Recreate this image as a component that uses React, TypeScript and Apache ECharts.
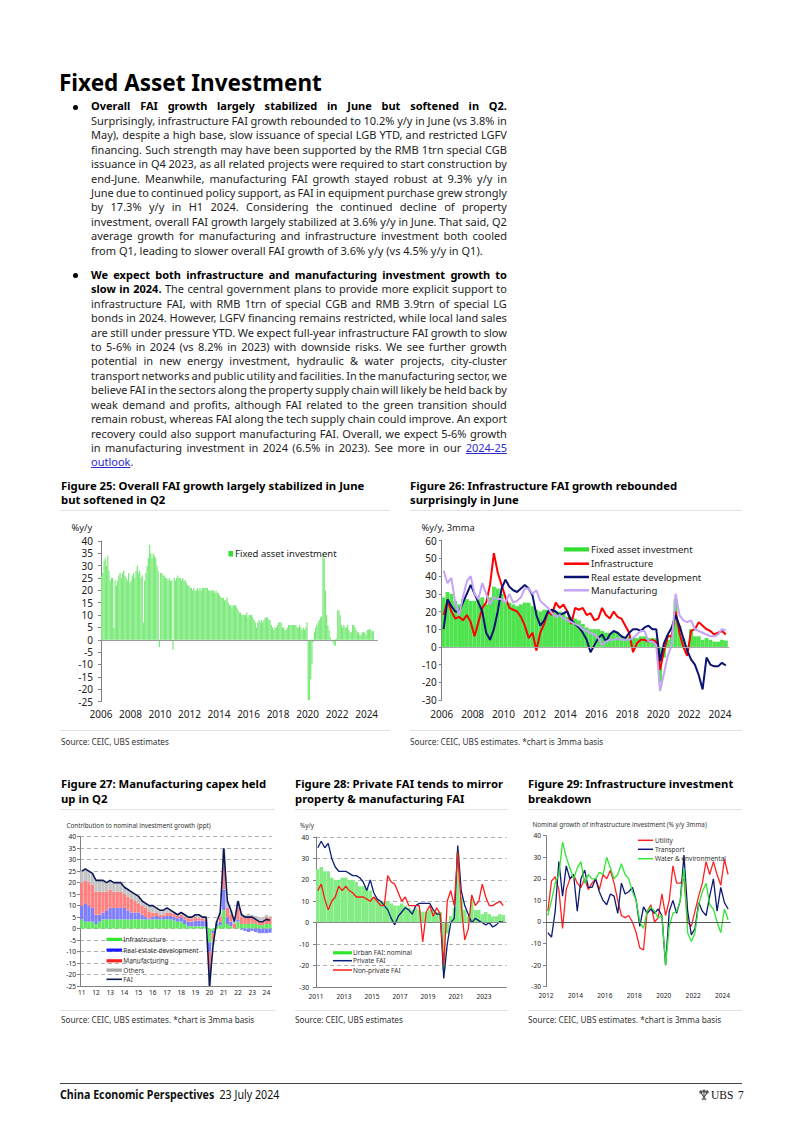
import React, { useEffect, useRef } from "react";
import * as echarts from "echarts";

const FONT = '"Noto Sans", "DejaVu Sans", sans-serif';

// ---------------- Figure 25: monthly FAI y/y (Jan 2006 - Jun 2024) ----------------
const fig25Start = 2006;
const fig25Fai = [
  26, 27, 32, 33, 30, 34, 28, 24, 25, 25, 5, 24, // 2006
  22, 24, 26, 27, 25, 27, 28, 26, 25, 24, 27, 23, // 2007
  24, 26, 27, 25, 28, 30, 27, 28, 25, 26, 7, 24, // 2008
  27, 30, 33, 38.5, 35, 33, 35, 34, 33, 30, 28, -3, // 2009
  27, 27, 26, 26, 25, 25, 24, 25, 24, 24, -4, 25, // 2010
  24, 25, 26, 25, 25, 24, 25, 24, 24, 23, 22, 22, // 2011
  21, 21, 20, 21, 20, 20, 21, 20, 21, 20, 21, 21, // 2012
  21, 21, 21, 20, 20, 20, 20, 20, 19, 20, 19, 19, // 2013
  18, 17, 17, 17, 16, 16, 17, 15, 14, 14, 13, 14, // 2014
  14, 14, 13, 12, 11, 11, 10, 10, 10, 10, 11, 9, // 2015
  10, 10, 10, 9, 8, 7, 5, 7, 8, 7, 8, 7, // 2016
  8, 9, 9, 9, 8, 8, 6, 5, 4, 5, 5, 6, // 2017
  7, 7, 7, 5, 5, 4, 4, 5, 6, 6, 6, 6, // 2018
  6, 6, 6, 5, 5, 6, 5, 4, 5, 4, 5, 7, // 2019
  -24.5, -24.5, -16, -10, -1, 3, 5, 6, 7, 8, 9, 9.5, // 2020
  35, 33, 20, 10, 6, 4, 1, 0, -1, -2, -2.5, 0.5, // 2021
  12, 12, 10, 6, 5, 6, 5, 5, 6, 4, 3, 3, // 2022
  6, 6, 5, 4, 3, 3, 2, 2, 3, 3, 3, 2, // 2023
  4, 4, 4.5, 4, 3.5, 3.6, // 2024
];

// ---------------- Figure 26: quarterly readings of 3mma series (2006Q1 - 2024Q2) ----------------
const fig26Start = 2006;
const fig26Fai = [
  28, 31, 30, 26, 24, 27, 27, 26, 26, 27, 28, 24, 28, 34, 33, 30, 26, 25, 24, 23,
  24, 25, 25, 23, 21, 20, 21, 21, 21, 20, 20, 19, 17, 17, 16, 15, 13, 11, 10, 10,
  10, 9, 8, 8, 9, 8, 6, 5, 6, 5, 5, 6, 6, 5, 5, 5, -20, -6, 4, 7,
  27, 12, 5, 0, 10, 6, 6, 4, 5, 4, 3, 3, 4, 3.6,
];
const fig26Infra = [
  18, 26, 20, 16, 17, 15, 18, 14, 6, 14, 22, 25, 35, 53, 42, 35, 28, 22, 21, 20,
  17, 12, 5, 8, -2, 8, 13, 20, 18, 25, 22, 24, 20, 13, 22, 21, 22, 18, 19, 15,
  16, 22, 18, 16, 20, 17, 16, 12, 8, -3, 2, 4, 4, 3, 4, 3, -13, -2, 6, 6,
  20, 8, 0, -5, 9, 10, 14, 12, 10, 9, 7, 8, 9, 7,
];
const fig26RealEstate = [
  10, 27, 23, 20, 20, 25, 30, 35, 30, 25, 20, 8, 4, 10, 20, 33, 38, 34, 32, 31,
  33, 35, 33, 29, 18, 12, 15, 20, 21, 20, 18, 19, 20, 15, 13, 11, 8, 4, -3, 1,
  5, 7, 3, 7, 9, 8, 6, 5, 8, 10, 10, 9, 11, 12, 10, 10, -8, 2, 7, 11,
  18, 12, 5, -2, -7, -10, -16, -24, -6, -10, -11, -11, -9, -10.5,
];
const fig26Manuf = [
  43, 36, 39, 25, 18, 28, 37, 40, 30, 27, 36, 30, 24, 28, 27, 27, 25, 30, 25, 26,
  28, 33, 33, 30, 32, 26, 24, 22, 19, 17, 18, 16, 15, 14, 13, 12, 10, 9, 8, 7,
  5, 1, 3, 4, 4, 5, 4, 4, 4, 5, 7, 9, 9, 3, 3, 1, -25, -15, -5, 1,
  30, 18, 15, 14, 15, 10, 9, 8, 7, 6, 6, 7, 10, 9.3,
];

// ---------------- Figure 27: contributions, quarterly (2011Q1 - 2024Q2) ----------------
const fig27Years = [2011, 2012, 2013, 2014, 2015, 2016, 2017, 2018, 2019, 2020, 2021, 2022, 2023, 2024];
const fig27Quarters: string[] = [];
fig27Years.forEach((y) => ["Q1", "Q2", "Q3", "Q4"].forEach((q) => fig27Quarters.push(`${y}${q}`)));
fig27Quarters.length = 54; // data runs to 2024Q2
const fig27Infra = [
  4, 3, 3, 3, 2, 3, 4, 4, 4, 4, 4, 4, 4, 4, 4, 4, 4, 4, 4, 4, 4, 4, 4, 4, 4, 4, 3.5, 3,
  3, 2, 1, 1, 1, 1, 1, 1, -6, -1, 1, 1.5, 8, 2, 1, 0, 3, 2, 2, 2, 2.5, 2, 1.5, 1.5, 2, 2,
];
const fig27RealEstate = [
  6, 8, 7, 6, 4, 3, 3, 4, 5, 5, 5, 5, 5, 4, 3, 3, 3, 2, 1, 0.5, 1, 1.5, 1, 1, 1.5, 1.5, 1.5, 1.5,
  2, 2, 2, 2, 2.5, 2.5, 2.5, 2, -4, -1, 1, 1.5, 9, 3, 2, 0, 1, -0.5, -1, -1.5, -1, -1.5, -2, -2, -2, -1.8,
];
const fig27Manuf = [
  10, 10, 10, 10, 10, 10, 9, 8, 8, 7, 7, 7, 6, 6, 6, 5, 4, 4, 4, 3, 2, 1.5, 1, 1, 1.5, 1.5, 1.5, 1.2,
  1, 1, 1.5, 1.5, 1.5, 1, 1, 1, -9, -3, 0, 2, 10, 4, 3, 2, 5, 3, 3, 3, 2.5, 2, 2, 2, 3, 2.8,
];
const fig27Others = [
  5, 5, 5, 5, 5, 5, 5, 4, 4, 4, 4, 4, 3, 3, 3, 3, 3, 2, 2, 2.5, 3, 2, 2, 2, 2, 1, 0.5, 0.3,
  1, 1, 0.5, 0.5, 1, 1.5, 0.5, 1, -6, -2, 1, 2, 8, 3, 2, 1, 3, 1.5, 1, 1.5, 1, 1.5, 1.5, 1.5, 1, 0.6,
];
const fig27Fai = [
  25, 26, 25, 24, 21, 21, 21, 20, 21, 20, 20, 20, 18, 17, 16, 15, 14, 12, 11, 10, 10, 9, 8, 8, 9, 8, 7, 6,
  7, 6, 5, 5, 6, 6, 5, 5, -25, -7, 3, 7, 35, 12, 8, 3, 12, 6, 5, 5, 5, 4, 3, 3, 4, 3.6,
];

// ---------------- Figure 28: quarterly (2011Q1 - 2024Q2) ----------------
const fig28Start = 2011;
const fig28Urban = [
  25, 26, 24, 24, 21, 20, 20, 21, 21, 20, 20, 19, 17, 17, 16, 15, 12, 11, 10, 10, 10, 9, 8, 8, 9, 8, 7, 6,
  7, 6, 5, 5, 6, 6, 5, 5, -22, -5, 3, 7, 33, 12, 6, 3, 11, 6, 6, 4, 5, 4, 3, 3, 4, 3.6,
];
const fig28Private = [
  35, 38, 35, 37, 30, 26, 24, 24, 24, 23, 22, 22, 21, 19, 15, 20, 14, 11, 10, 8, 6, 2, -1, 3, 5, 7, 6, 4,
  8, 9, 9, 9, 9, 6, 4, 4, -26, -10, 0, 2, 36, 15, 8, 4, 0, 2, 1, 0, -1, 0, -2, -1, 0.5, 0.2,
];
const fig28NonPrivate = [
  15, 18, 11, 6, 10, 12, 17, 15, 17, 15, 14, 12, 12, 12, 11, 10, 12, 10, 8, 8, 22, 19, 18, 14, 10, 12, 8, 8,
  8, 8, -9, 5, 8, 3, 7, 4, -20, 10, 15, 8, 33, 8, -8, -3, 13, 8, 10, 18, 12, 8, 8, 9, 10, 8,
];

// ---------------- Figure 29: quarterly (2012Q1 - 2024Q2) ----------------
const fig29Start = 2012;
const fig29Utility = [
  5, 19, 21, 15, -3, 15, 20, 22, 18, 16, 20, 15, 18, 20, 15, 22, 20, 24, 18, 10, 3, 2, 3, 0,
  -5, -12, -13, 5, 8, 0, 2, 13, 3, 10, 26, 18, 18, 20, 0, -2, 5, 12, 18, 28, 22, 28, 22, 17, 29, 22,
];
const fig29Transport = [
  -5, -7, 5, 28, 12, 26, 20, 22, 5, 20, 24, 16, 16, 20, 14, 10, 8, 13, 12, 4, 18, 13, 14, 16,
  10, -2, 7, 4, 6, 4, 6, 3, -20, 5, 10, 4, 10, 31, 5, -6, -3, 9, 5, 3, 12, 20, 5, 16, 9, 6,
];
const fig29Water = [
  3, 10, 18, 22, 37, 30, 25, 20, 25, 28, 18, 22, 20, 20, 23, 22, 30, 25, 20, 22, 27, 22, 20, 14,
  10, 0, -3, 5, 7, 5, 2, 3, -20, -2, 4, 5, 10, 25, -5, -9, -5, 8, 14, 18, 8, 6, 0, -5, 6, 1,
];

// ---------------- text ----------------
type Seg = { t: string; b?: boolean; a?: boolean };
const para1: Seg[][] = [
  [{ t: "Overall FAI growth largely stabilized in June but softened in Q2.", b: true }],
  [{ t: "Surprisingly, infrastructure FAI growth rebounded to 10.2% y/y in June (vs 3.8% in" }],
  [{ t: "May), despite a high base, slow issuance of special LGB YTD, and restricted LGFV" }],
  [{ t: "financing. Such strength may have been supported by the RMB 1trn special CGB" }],
  [{ t: "issuance in Q4 2023, as all related projects were required to start construction by" }],
  [{ t: "end-June. Meanwhile, manufacturing FAI growth stayed robust at 9.3% y/y in" }],
  [{ t: "June due to continued policy support, as FAI in equipment purchase grew strongly" }],
  [{ t: "by 17.3% y/y in H1 2024. Considering the continued decline of property" }],
  [{ t: "investment, overall FAI growth largely stabilized at 3.6% y/y in June. That said, Q2" }],
  [{ t: "average growth for manufacturing and infrastructure investment both cooled" }],
  [{ t: "from Q1, leading to slower overall FAI growth of 3.6% y/y (vs 4.5% y/y in Q1)." }],
];
const para2: Seg[][] = [
  [{ t: "We expect both infrastructure and manufacturing investment growth to", b: true }],
  [{ t: "slow in 2024.", b: true }, { t: "The central government plans to provide more explicit support to" }],
  [{ t: "infrastructure FAI, with RMB 1trn of special CGB and RMB 3.9trn of special LG" }],
  [{ t: "bonds in 2024. However, LGFV financing remains restricted, while local land sales" }],
  [{ t: "are still under pressure YTD. We expect full-year infrastructure FAI growth to slow" }],
  [{ t: "to 5-6% in 2024 (vs 8.2% in 2023) with downside risks. We see further growth" }],
  [{ t: "potential in new energy investment, hydraulic & water projects, city-cluster" }],
  [{ t: "transport networks and public utility and facilities. In the manufacturing sector, we" }],
  [{ t: "believe FAI in the sectors along the property supply chain will likely be held back by" }],
  [{ t: "weak demand and profits, although FAI related to the green transition should" }],
  [{ t: "remain robust, whereas FAI along the tech supply chain could improve. An export" }],
  [{ t: "recovery could also support manufacturing FAI. Overall, we expect 5-6% growth" }],
  [{ t: "in manufacturing investment in 2024 (6.5% in 2023). See more in our" }, { t: "2024-25", a: true }],
  [{ t: "outlook", a: true }, { t: "." }],
];

const qPairs = (arr: number[], start: number) => arr.map((v, i) => [start + i * 0.25 + 0.125, v]);
const mPairs = (arr: number[], start: number) => arr.map((v, i) => [start + (i + 0.5) / 12, v]);

const zeroLine = (color: string) => ({
  silent: true,
  symbol: "none",
  label: { show: false },
  lineStyle: { color, width: 1, type: "solid" },
  data: [{ yAxis: 0 }],
});

const gText = (text: string, x: number, y: number, size: number, fill = "#333") => ({
  type: "text",
  x,
  y,
  z: 100,
  silent: true,
  style: { text, fill, font: `${size}px ${FONT}`, verticalAlign: "middle", align: "left" },
});
const gRect = (x: number, y: number, w: number, h: number, fill: string) => ({
  type: "rect",
  z: 100,
  silent: true,
  shape: { x, y, width: w, height: h },
  style: { fill },
});
const gLine = (x1: number, x2: number, y: number, stroke: string, w: number) => ({
  type: "line",
  z: 100,
  silent: true,
  shape: { x1, y1: y, x2, y2: y },
  style: { stroke, lineWidth: w },
});

function buildOption() {
  const big = 10;
  const small = 6.6;
  const axisGray = "#808080";
  const yAx = (gi: number, min: number, max: number, interval: number, size: number, margin: number, dashed: boolean) => ({
    gridIndex: gi,
    type: "value",
    min,
    max,
    interval,
    axisLine: { show: true, lineStyle: { color: axisGray, width: 1 } },
    axisTick: { show: true, length: 3, lineStyle: { color: axisGray } },
    axisLabel: { fontSize: size, color: "#222", margin, fontFamily: FONT },
    splitLine: dashed ? { show: true, lineStyle: { color: "#9a9a9a", type: [4, 3], width: 0.8 } } : { show: false },
  });
  const xAx = (gi: number, min: number, max: number, interval: number, fmt: (v: number) => string, size: number, margin: number, line: boolean) => ({
    gridIndex: gi,
    type: "value",
    min,
    max,
    interval,
    axisLine: { show: line, onZero: false, lineStyle: { color: axisGray, width: 1 } },
    axisTick: { show: false },
    splitLine: { show: false },
    axisLabel: { fontSize: size, color: "#222", margin, fontFamily: FONT, formatter: fmt, showMaxLabel: true, showMinLabel: true },
  });
  const evenYear = (v: number) => (Number.isInteger(v) && v % 2 === 0 ? String(v) : "");
  const oddFrom2011 = (v: number) => (Number.isInteger(v) && (v - 2011) % 2 === 0 ? String(v) : "");

  const bar27 = (name: string, data: number[], color: string) => ({
    type: "bar", name, stack: "c27", xAxisIndex: 2, yAxisIndex: 2, data, barWidth: 3.3,
    itemStyle: { color },
  });

  return {
    animation: false,
    textStyle: { fontFamily: FONT },
    grid: [
      { left: 101, top: 541, width: 276.7, height: 160.5, containLabel: false, outerBoundsMode: "none" },
      { left: 441.7, top: 540.7, width: 287.6, height: 159.3, containLabel: false, outerBoundsMode: "none" },
      { left: 80, top: 836.7, width: 191.7, height: 149.3, containLabel: false, outerBoundsMode: "none" },
      { left: 316, top: 837, width: 190.4, height: 150, containLabel: false, outerBoundsMode: "none" },
      { left: 546, top: 835.7, width: 184.7, height: 151, containLabel: false, outerBoundsMode: "none" },
    ],
    xAxis: [
      xAx(0, 2006, 2024.75, 2, evenYear, big, 7, false),
      xAx(1, 2006, 2024.6, 2, evenYear, big, 8.5, false),
      {
        gridIndex: 2,
        type: "category",
        data: fig27Quarters,
        boundaryGap: true,
        axisLine: { show: true, onZero: false, lineStyle: { color: axisGray, width: 1 } },
        axisTick: { show: false },
        splitLine: { show: false },
        axisLabel: {
          fontSize: small, color: "#222", margin: 3, fontFamily: FONT,
          interval: (i: number) => i % 4 === 0,
          formatter: (v: string) => v.slice(2, 4),
        },
      },
      xAx(3, 2011, 2024.6, 1, oddFrom2011, small, 6, true),
      xAx(4, 2012, 2024.55, 2, evenYear, small, 5, false),
    ],
    yAxis: [
      yAx(0, -25, 40, 5, big, 8, false),
      yAx(1, -30, 60, 10, big, 5, false),
      yAx(2, -25, 40, 5, small, 4, true),
      yAx(3, -30, 40, 10, small, 7, true),
      yAx(4, -30, 40, 10, small, 5, false),
    ],
    series: [
      // Figure 25
      {
        type: "bar", name: "Fixed asset investment", xAxisIndex: 0, yAxisIndex: 0,
        data: mPairs(fig25Fai, fig25Start), barWidth: 1.25, itemStyle: { color: "#7bea7b" },
        markLine: zeroLine("#9a9a9a"),
      },
      // Figure 26
      {
        type: "bar", name: "FAI 3mma", xAxisIndex: 1, yAxisIndex: 1,
        data: qPairs(fig26Fai, fig26Start), barWidth: 3.9, itemStyle: { color: "#4fe34f" },
        markLine: zeroLine("#aaaaaa"),
      },
      { type: "line", name: "Infrastructure", xAxisIndex: 1, yAxisIndex: 1, data: qPairs(fig26Infra, fig26Start), symbol: "none", lineStyle: { color: "#ff0000", width: 2 } },
      { type: "line", name: "Real estate development", xAxisIndex: 1, yAxisIndex: 1, data: qPairs(fig26RealEstate, fig26Start), symbol: "none", lineStyle: { color: "#0a1272", width: 2 } },
      { type: "line", name: "Manufacturing", xAxisIndex: 1, yAxisIndex: 1, data: qPairs(fig26Manuf, fig26Start), symbol: "none", lineStyle: { color: "#c4a4f4", width: 2 } },
      // Figure 27
      bar27("Infrastructure (27)", fig27Infra, "#62e862"),
      bar27("Real estate development (27)", fig27RealEstate, "#8080ff"),
      bar27("Manufacturing (27)", fig27Manuf, "#ff8282"),
      bar27("Others (27)", fig27Others, "#c4c4c4"),
      { type: "line", name: "FAI (27)", xAxisIndex: 2, yAxisIndex: 2, data: fig27Fai, symbol: "none", lineStyle: { color: "#0b1a55", width: 1.6 }, z: 5 },
      // Figure 28
      {
        type: "bar", name: "Urban FAI", xAxisIndex: 3, yAxisIndex: 3, data: qPairs(fig28Urban, fig28Start),
        barWidth: 3.5, itemStyle: { color: "#86ec86" }, markLine: zeroLine("#8a8a8a"),
      },
      { type: "line", name: "Private FAI", xAxisIndex: 3, yAxisIndex: 3, data: qPairs(fig28Private, fig28Start), symbol: "none", lineStyle: { color: "#0b1f78", width: 1.3 } },
      { type: "line", name: "Non-private FAI", xAxisIndex: 3, yAxisIndex: 3, data: qPairs(fig28NonPrivate, fig28Start), symbol: "none", lineStyle: { color: "#ff1a1a", width: 1.3 } },
      // Figure 29
      {
        type: "line", name: "Utility", xAxisIndex: 4, yAxisIndex: 4, data: qPairs(fig29Utility, fig29Start),
        symbol: "none", lineStyle: { color: "#ff2222", width: 1.3 }, markLine: zeroLine("#555555"),
      },
      { type: "line", name: "Transport", xAxisIndex: 4, yAxisIndex: 4, data: qPairs(fig29Transport, fig29Start), symbol: "none", lineStyle: { color: "#0d1a70", width: 1.3 } },
      { type: "line", name: "Water & environmental", xAxisIndex: 4, yAxisIndex: 4, data: qPairs(fig29Water, fig29Start), symbol: "none", lineStyle: { color: "#33e633", width: 1.3 } },
    ],
    graphic: [
      // Fig 25
      gText("%y/y", 71.5, 527.5, 9.3, "#222"),
      gRect(228.5, 551, 4.5, 5.5, "#33dd33"),
      gText("Fixed asset investment", 235, 553.7, 9.5, "#222"),
      // Fig 26
      gText("%y/y, 3mma", 421.5, 527.5, 9.3, "#222"),
      gRect(564, 547.3, 25, 4.2, "#33dd33"),
      gText("Fixed asset investment", 591, 549.3, 9.5, "#222"),
      gLine(564, 589, 563.7, "#ff0000", 2.5),
      gText("Infrastructure", 591, 563.7, 9.5, "#222"),
      gLine(564, 589, 577, "#0a1272", 2.5),
      gText("Real estate development", 591, 577, 9.5, "#222"),
      gLine(564, 589, 590.3, "#c4a4f4", 2.5),
      gText("Manufacturing", 591, 590.3, 9.5, "#222"),
      // Fig 27
      gText("Contribution to nominal investment growth (ppt)", 66.5, 825, 6.3, "#333"),
      gRect(106.5, 937.8, 15.5, 3.2, "#33e633"),
      gText("Infrastructure", 123.3, 939.3, 6.5, "#333"),
      gRect(106.5, 948.5, 15.5, 3.2, "#1a1aff"),
      gText("Real estate development", 123.3, 950, 6.5, "#333"),
      gRect(106.5, 959.2, 15.5, 3.2, "#ff2020"),
      gText("Manufacturing", 123.3, 960.7, 6.5, "#333"),
      gRect(106.5, 968.5, 15.5, 3.2, "#a8a8a8"),
      gText("Others", 123.3, 970, 6.5, "#333"),
      gLine(106.5, 122, 979.3, "#0b1a55", 1.6),
      gText("FAI", 123.3, 979.3, 6.5, "#333"),
      // Fig 28
      gText("%y/y", 300, 825, 6.3, "#333"),
      gRect(333, 951.2, 19, 3.2, "#33e633"),
      gText("Urban FAI: nominal", 353, 952.7, 6.5, "#333"),
      gLine(333, 352, 960.7, "#0b1f78", 1.5),
      gText("Private FAI", 353, 960.7, 6.5, "#333"),
      gLine(333, 352, 970, "#ff1a1a", 1.5),
      gText("Non-private FAI", 353, 970, 6.5, "#333"),
      // Fig 29
      gText("Nominal growth of infrastructure investment (% y/y 3mma)", 532.5, 824, 6.3, "#333"),
      gLine(638, 653, 840.3, "#ff2222", 1.5),
      gText("Utility", 655, 840.3, 6.5, "#333"),
      gLine(638, 653, 849.3, "#0d1a70", 1.5),
      gText("Transport", 655, 849.3, 6.5, "#333"),
      gLine(638, 653, 858.7, "#33e633", 1.5),
      gText("Water & environmental", 655, 858.7, 6.5, "#333"),
    ],
  };
}

const BODY_SIZE = 11;
const LH = 14.43;

function Line({ segs, cy, justify }: { segs: Seg[]; cy: number; justify: boolean }) {
  const segStyle = (s: Seg): React.CSSProperties => ({
    fontWeight: s.b ? 700 : 400,
    color: s.a ? "#2b2bd0" : s.b ? "#000" : "#1e1e1e",
    textDecoration: s.a ? "underline" : "none",
  });
  const base: React.CSSProperties = {
    position: "absolute",
    left: 91,
    top: cy - LH / 2,
    width: 416,
    height: LH,
    lineHeight: `${LH}px`,
    fontSize: BODY_SIZE,
    whiteSpace: "nowrap",
  };
  if (!justify) {
    return (
      <div style={base}>
        {segs.map((s, i) => (
          <span key={i} style={segStyle(s)}>{s.t}</span>
        ))}
      </div>
    );
  }
  const words: Seg[] = [];
  segs.forEach((s) => s.t.split(" ").filter(Boolean).forEach((w) => words.push({ ...s, t: w })));
  return (
    <div style={{ ...base, display: "flex", justifyContent: "space-between", columnGap: 2 }}>
      {words.map((w, i) => (
        <span key={i} style={segStyle(w)}>{w.t}</span>
      ))}
    </div>
  );
}

const txt = (left: number, cy: number, size: number, extra: React.CSSProperties = {}): React.CSSProperties => ({
  position: "absolute",
  left,
  top: cy - size * 0.7,
  height: size * 1.4,
  lineHeight: `${size * 1.4}px`,
  fontSize: size,
  whiteSpace: "nowrap",
  ...extra,
});
const hr = (left: number, right: number, y: number, color = "#e2e2e2"): React.CSSProperties => ({
  position: "absolute",
  left,
  top: y,
  width: right - left,
  height: 1,
  background: color,
});

export default function App() {
  const ref = useRef<HTMLDivElement>(null);
  useEffect(() => {
    if (!ref.current) return;
    const chart = echarts.init(ref.current, null, { renderer: "svg" });
    chart.setOption(buildOption() as any);
    return () => chart.dispose();
  }, []);

  const figTitle = 11.3;
  const src = 8.2;
  const titleStyle: React.CSSProperties = { fontWeight: 700, color: "#000" };
  const srcStyle: React.CSSProperties = { color: "#333" };

  return (
    <div style={{ position: "absolute", left: 0, top: 0, width: 802, height: 1134, background: "#fff", overflow: "hidden", fontFamily: FONT }}>
      <div ref={ref} style={{ position: "absolute", left: 0, top: 0, width: 802, height: 1134 }} />

      <div style={txt(59, 83, 22.5, { fontWeight: 700, color: "#000" })}>Fixed Asset Investment</div>

      <div style={{ position: "absolute", left: 73, top: 104.5, width: 5, height: 5, borderRadius: 3, background: "#000" }} />
      {para1.map((segs, i) => (
        <Line key={"p1" + i} segs={segs} cy={106.7 + i * LH} justify={i < para1.length - 1} />
      ))}
      <div style={{ position: "absolute", left: 73, top: 272.8, width: 5, height: 5, borderRadius: 3, background: "#000" }} />
      {para2.map((segs, i) => (
        <Line key={"p2" + i} segs={segs} cy={275 + i * LH} justify={i < para2.length - 1} />
      ))}

      {/* Row 1 titles */}
      <div style={txt(61, 485.7, figTitle, titleStyle)}>Figure 25: Overall FAI growth largely stabilized in June</div>
      <div style={txt(61, 500.3, figTitle, titleStyle)}>but softened in Q2</div>
      <div style={hr(60, 390, 510)} />
      <div style={txt(410, 485.7, figTitle, titleStyle)}>Figure 26: Infrastructure FAI growth rebounded</div>
      <div style={txt(410, 500.3, figTitle, titleStyle)}>surprisingly in June</div>
      <div style={hr(410, 742, 510)} />
      <div style={hr(60, 390, 730)} />
      <div style={hr(410, 742, 730)} />
      <div style={txt(61, 741.7, src, srcStyle)}>Source: CEIC, UBS estimates</div>
      <div style={txt(410, 741.7, src, srcStyle)}>Source: CEIC, UBS estimates. *chart is 3mma basis</div>

      {/* Row 2 titles */}
      <div style={txt(61, 784, figTitle, titleStyle)}>Figure 27: Manufacturing capex held</div>
      <div style={txt(61, 798.5, figTitle, titleStyle)}>up in Q2</div>
      <div style={txt(295, 784, figTitle, titleStyle)}>Figure 28: Private FAI tends to mirror</div>
      <div style={txt(295, 798.5, figTitle, titleStyle)}>property &amp; manufacturing FAI</div>
      <div style={txt(528, 784, figTitle, titleStyle)}>Figure 29: Infrastructure investment</div>
      <div style={txt(528, 798.5, figTitle, titleStyle)}>breakdown</div>
      <div style={hr(60, 275, 809)} />
      <div style={hr(295, 508, 809)} />
      <div style={hr(528, 742, 809)} />
      <div style={hr(60, 275, 1010)} />
      <div style={hr(295, 508, 1010)} />
      <div style={hr(528, 742, 1010)} />
      <div style={txt(61, 1020, src, srcStyle)}>Source: CEIC, UBS estimates. *chart is 3mma basis</div>
      <div style={txt(295, 1020, src, srcStyle)}>Source: CEIC, UBS estimates</div>
      <div style={txt(528, 1020, src, srcStyle)}>Source: CEIC, UBS estimates. *chart is 3mma basis</div>

      {/* Footer */}
      <div style={hr(60, 742, 1083, "#444")} />
      <div style={txt(60, 1095, 12.5, { color: "#111", transform: "scaleX(0.855)", transformOrigin: "left center" })}>
        <span style={{ fontWeight: 700 }}>China Economic Perspectives</span>
        <span style={{ marginLeft: 6 }}>23 July 2024</span>
      </div>
      <svg style={{ position: "absolute", left: 698, top: 1089, width: 12, height: 12 }} viewBox="0 0 12 12">
        <circle cx="3" cy="3" r="1.8" fill="#555" />
        <circle cx="9" cy="3" r="1.8" fill="#555" />
        <circle cx="6" cy="2" r="1.6" fill="#555" />
        <line x1="3" y1="4" x2="8" y2="11" stroke="#555" strokeWidth="1.2" />
        <line x1="9" y1="4" x2="4" y2="11" stroke="#555" strokeWidth="1.2" />
        <line x1="6" y1="3" x2="6" y2="11" stroke="#555" strokeWidth="1.2" />
      </svg>
      <div style={txt(711, 1095, 11.5, { fontFamily: '"Liberation Serif", serif', color: "#111" })}>UBS</div>
      <div style={txt(738, 1095, 11.5, { fontFamily: '"Liberation Serif", serif', color: "#111" })}>7</div>
    </div>
  );
}
